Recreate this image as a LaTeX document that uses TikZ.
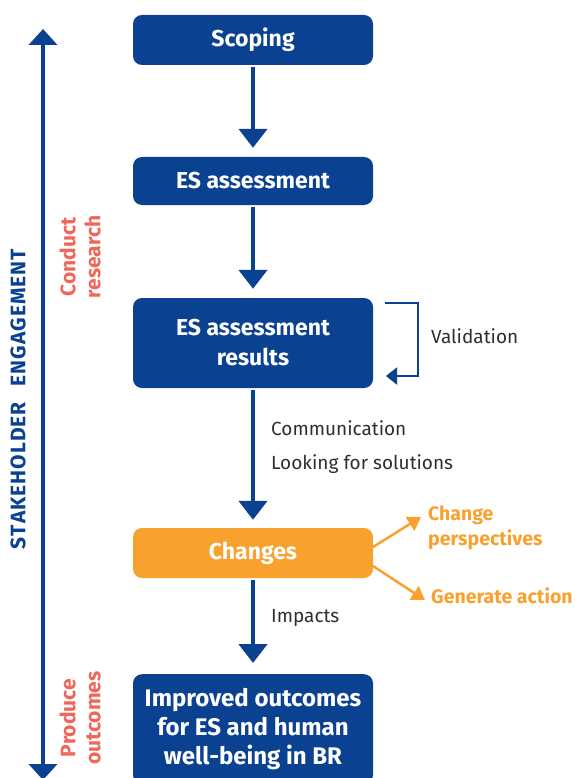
\documentclass[tikz,border=0pt]{standalone}
\usepackage{fontspec}
\setmainfont{Fira Sans}
\usetikzlibrary{arrows.meta,calc}
\definecolor{navy}{HTML}{0A4190}
\definecolor{amber}{HTML}{F9A12E}
\definecolor{coral}{HTML}{F2665A}
\definecolor{ink}{HTML}{2E2E2E}
\begin{document}
\begin{tikzpicture}[x=1pt,y=-1pt,
  stage/.style={rounded corners=9pt, minimum width=240pt, text=white, font=\fontsize{23}{30}\selectfont\bfseries, align=center, inner sep=0pt},
  flow/.style={navy, line width=4.5pt, -{Triangle[width=28pt,length=19pt]}},
  note/.style={text=ink, font=\fontsize{19}{22}\selectfont, anchor=west, inner sep=0pt},
  side/.style={text=coral, font=\fontsize{21}{25}\selectfont\bfseries, align=center, rotate=90, inner sep=0pt},
  act/.style={text=amber, font=\fontsize{19.5}{25}\selectfont\bfseries, align=left, anchor=west, inner sep=0pt},
  branch/.style={amber, line width=2.5pt, -{Triangle[width=16pt,length=13pt]}}]
\useasboundingbox (0,0) rectangle (574,778);
\begin{scope}
\clip (0,0) rectangle (574,778);
% process stages
\node[stage, fill=navy, minimum height=50pt] (scope) at (253,40) {Scoping};
\node[stage, fill=navy, minimum height=48pt] (assess) at (253,181) {ES assessment};
\node[stage, fill=navy, minimum height=90pt] (results) at (253,343) {ES assessment\\results};
\node[stage, fill=amber, minimum height=50pt] (changes) at (253,553) {Changes};
\node[stage, fill=navy, minimum height=110pt, anchor=north] (outcome) at (253,674) {};
\node[text=white, font=\fontsize{24}{29}\selectfont\bfseries, align=center] (outtext) at (253,729) {Improved outcomes\\for ES and human\\well-being in BR};
\end{scope}
% vertical flow between stages
\draw[flow, shorten <=2pt, shorten >=9pt] (scope.south) -- (assess.north);
\draw[flow, shorten <=2pt, shorten >=9pt] (assess.south) -- (results.north);
\draw[flow, shorten <=2pt, shorten >=8pt] (results.south) -- (changes.north);
\draw[flow, shorten <=2pt, shorten >=11pt] (changes.south) -- (outcome.north);
% flow labels
\node[note] (comm) at (271,428) {Communication};
\node[note] (look) at (271,464) {Looking for solutions};
\node[note] (imp) at (271,618) {Impacts};
% validation loop
\coordinate (vtop) at (385,303);
\coordinate (vbot) at (386,376);
\draw[navy, line width=2pt, -{Triangle[width=17pt,length=11pt]}] (vtop) -- (418,303) |- (vbot);
\node[note] (valid) at (431,336) {Validation};
% outcomes of change
\coordinate (c1) at (373,547);
\coordinate (c2) at (373,566);
\node[act] (persp) at (428,528) {Change\\perspectives};
\node[act] (gen) at (431,596) {Generate action};
\draw[branch] (c1) -- (421,517);
\draw[branch] (c2) -- (425,600);
% engagement axis
\coordinate (atop) at (43,29);
\coordinate (abot) at (43,780);
\draw[navy, line width=4pt, {Triangle[width=28pt,length=16pt]}-{Triangle[width=28pt,length=16pt]}] (atop) -- (abot);
\node[rotate=90, text=navy, font=\fontsize{21}{24}\selectfont\bfseries, inner sep=0pt] (stake) at (18,399) {S\kern1pt T\kern1pt A\kern1pt K\kern1pt E\kern1pt H\kern1pt O\kern1pt L\kern1pt D\kern1pt E\kern1pt R\hspace{16pt}E\kern1pt N\kern1pt G\kern1pt A\kern1pt G\kern1pt E\kern1pt M\kern1pt E\kern1pt N\kern1pt T};
\node[side] (research) at (80,257) {Conduct\\research};
\node[side] (produce) at (80,718) {Produce\\outcomes};
\end{tikzpicture}
\end{document}
